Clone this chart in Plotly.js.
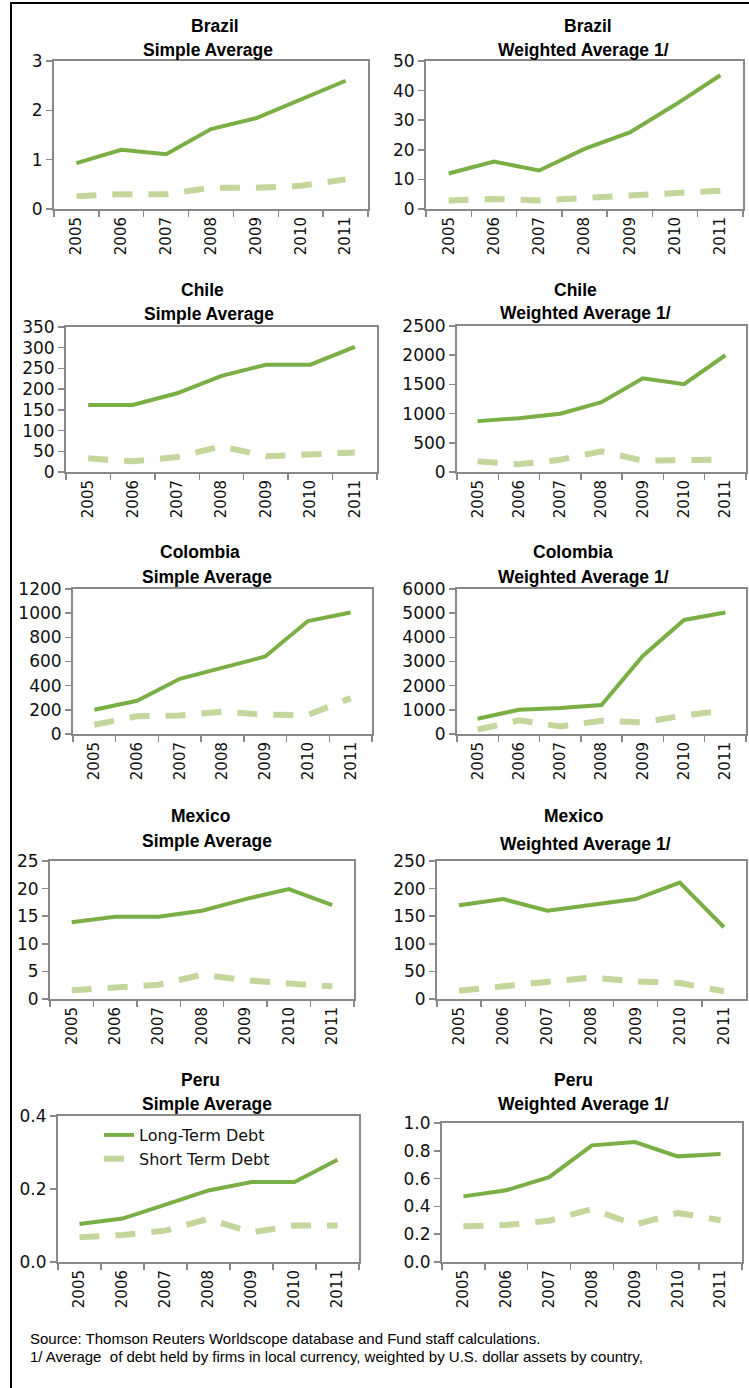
<!DOCTYPE html>
<html>
<head>
<meta charset="utf-8">
<script src="https://cdn.plot.ly/plotly-3.0.1.min.js"></script>
<style>
html,body{margin:0;padding:0;background:#fff;}
#chart{width:749px;height:1388px;}
</style>
</head>
<body>
<div id="chart"></div>
<script>
// ---- Data ----
const years = ['2005','2006','2007','2008','2009','2010','2011'];

const brazilSimpleLong   = [0.93, 1.20, 1.11, 1.62, 1.84, 2.22, 2.60];
const brazilSimpleShort  = [0.26, 0.30, 0.30, 0.43, 0.43, 0.47, 0.60];
const brazilWeightedLong = [12.0, 16.0, 13.0, 20.3, 25.9, 35.2, 45.2];
const brazilWeightedShort= [2.9, 3.4, 2.9, 3.8, 4.4, 5.2, 6.2];

const chileSimpleLong    = [162, 162, 190, 232, 259, 259, 302];
const chileSimpleShort   = [33, 26, 36, 62, 38, 43, 47];
const chileWeightedLong  = [871, 922, 997, 1196, 1606, 1503, 1999];
const chileWeightedShort = [182, 131, 211, 353, 194, 211, 211];

const colombiaSimpleLong    = [201, 275, 457, 553, 641, 935, 1005];
const colombiaSimpleShort   = [77, 146, 154, 184, 160, 157, 297];
const colombiaWeightedLong  = [633, 1005, 1073, 1197, 3230, 4720, 5030];
const colombiaWeightedShort = [179, 564, 316, 550, 482, 771, 963];

const mexicoSimpleLong    = [13.9, 14.9, 14.9, 16.0, 18.1, 19.9, 17.0];
const mexicoSimpleShort   = [1.57, 2.1, 2.6, 4.4, 3.4, 2.8, 2.3];
const mexicoWeightedLong  = [170, 181, 160, 170, 181, 211, 130];
const mexicoWeightedShort = [15, 23, 31, 39, 32, 29, 14];

const peruSimpleLong    = [0.104, 0.119, 0.157, 0.196, 0.219, 0.219, 0.280];
const peruSimpleShort   = [0.068, 0.074, 0.086, 0.118, 0.081, 0.100, 0.100];
const peruWeightedLong  = [0.472, 0.516, 0.611, 0.839, 0.863, 0.760, 0.777];
const peruWeightedShort = [0.257, 0.266, 0.297, 0.381, 0.269, 0.353, 0.300];

const seriesNames = ['Long-Term Debt', 'Short Term Debt'];
const subTitles = ['Simple Average', 'Weighted Average 1/'];
const footerLines = [
  'Source: Thomson Reuters Worldscope database and Fund staff calculations.',
  '1/ Average  of debt held by firms in local currency, weighted by U.S. dollar assets by country,'
];

// ---- Panel configuration ----
const panels = [
  {country:'Brazil',   sub:0, long:brazilSimpleLong,     short:brazilSimpleShort,     ymax:3,    dtick:1},
  {country:'Brazil',   sub:1, long:brazilWeightedLong,   short:brazilWeightedShort,   ymax:50,   dtick:10},
  {country:'Chile',    sub:0, long:chileSimpleLong,      short:chileSimpleShort,      ymax:350,  dtick:50},
  {country:'Chile',    sub:1, long:chileWeightedLong,    short:chileWeightedShort,    ymax:2500, dtick:500},
  {country:'Colombia', sub:0, long:colombiaSimpleLong,   short:colombiaSimpleShort,   ymax:1200, dtick:200},
  {country:'Colombia', sub:1, long:colombiaWeightedLong, short:colombiaWeightedShort, ymax:6000, dtick:1000},
  {country:'Mexico',   sub:0, long:mexicoSimpleLong,     short:mexicoSimpleShort,     ymax:25,   dtick:5},
  {country:'Mexico',   sub:1, long:mexicoWeightedLong,   short:mexicoWeightedShort,   ymax:250,  dtick:50},
  {country:'Peru',     sub:0, long:peruSimpleLong,       short:peruSimpleShort,       ymax:0.4,  dtick:0.2, fmt:'.1f', legend:true},
  {country:'Peru',     sub:1, long:peruWeightedLong,     short:peruWeightedShort,     ymax:1.0,  dtick:0.2, fmt:'.1f'}
];

// pixel boxes [x0, x1, ytop, ybottom] and title centers
const boxes = [
  [54, 368, 61, 209], [426, 743, 61, 209],
  [66, 377, 327, 472], [457, 746, 326, 472],
  [73, 372, 589, 734], [457, 746, 589, 734],
  [50, 354, 861, 999], [437, 746, 861, 999],
  [58, 359, 1116, 1262], [442, 742, 1123, 1262]
];
const titlePos = [
  [215, 26, 208, 50], [588, 26, 583, 50],
  [202, 290, 209, 314], [575, 290, 585, 313],
  [200, 552, 207, 577], [573, 552, 583, 577],
  [200, 816, 207, 841], [573, 816, 585, 844],
  [200, 1080, 207, 1104], [573, 1080, 583, 1104]
];

const W = 749, H = 1388;
const px = x => x / W;
const py = y => 1 - y / H;

const longColor = '#79AF45';
const shortColor = '#C3D69B';
const axisColor = '#898989';
const tickFamily = 'DejaVu Sans, sans-serif';
const titleFamily = 'Liberation Sans, Arial, sans-serif';

const data = [];
const layout = {
  width: W, height: H,
  margin: {l:0, r:0, t:0, b:0},
  paper_bgcolor: '#fff', plot_bgcolor: '#fff',
  showlegend: true,
  legend: {
    x: px(99), y: py(1118), xanchor: 'left', yanchor: 'top',
    bgcolor: 'rgba(0,0,0,0)', borderwidth: 0,
    font: {family: tickFamily, size: 16, color: '#111'},
    tracegroupgap: 0
  },
  annotations: [],
  shapes: [
    {type:'rect', xref:'paper', yref:'paper', x0: px(11), x1: px(751), y0: py(1392), y1: py(3),
     line:{color:'#000', width:2}, fillcolor:'rgba(0,0,0,0)', layer:'above'}
  ]
};

panels.forEach((p, i) => {
  const n = i + 1;
  const xa = 'x' + (n === 1 ? '' : n);
  const ya = 'y' + (n === 1 ? '' : n);
  const b = boxes[i];
  data.push({
    x: years, y: p.long, xaxis: xa, yaxis: ya, type: 'scatter', mode: 'lines',
    name: seriesNames[0], showlegend: !!p.legend, legendgroup: 'long',
    line: {color: longColor, width: 4}, hoverinfo: 'x+y'
  });
  data.push({
    x: years, y: p.short, xaxis: xa, yaxis: ya, type: 'scatter', mode: 'lines',
    name: seriesNames[1], showlegend: !!p.legend, legendgroup: 'short',
    line: {color: shortColor, width: 6, dash: '20px,16px'}, hoverinfo: 'x+y'
  });
  const xk = 'xaxis' + (n === 1 ? '' : n);
  const yk = 'yaxis' + (n === 1 ? '' : n);
  layout[xk] = {
    domain: [px(b[0]), px(b[1])], anchor: ya, type: 'category',
    range: [-0.5, 6.5], tickson: 'boundaries', ticks: 'outside', ticklen: 6,
    tickcolor: axisColor, tickwidth: 1.5, showline: true, linecolor: axisColor, linewidth: 2,
    mirror: true, showgrid: false, zeroline: false, tickangle: -90,
    tickfont: {family: tickFamily, size: 15, color: '#111'}, fixedrange: true
  };
  layout[yk] = {
    domain: [py(b[3]), py(b[2])], anchor: xa, range: [0, p.ymax], dtick: p.dtick, tick0: 0,
    ticks: 'outside', ticklen: 6, tickcolor: axisColor, tickwidth: 1.5,
    showline: true, linecolor: axisColor, linewidth: 2, mirror: true,
    showgrid: false, zeroline: false, tickformat: p.fmt || '',
    tickfont: {family: tickFamily, size: 17, color: '#111'}, fixedrange: true
  };
  const t = titlePos[i];
  layout.annotations.push({
    xref: 'paper', yref: 'paper', x: px(t[0]), y: py(t[1]), xanchor: 'center', yanchor: 'middle',
    text: '<b>' + p.country + '</b>', showarrow: false,
    font: {family: titleFamily, size: 17.5, color: '#000'}
  });
  layout.annotations.push({
    xref: 'paper', yref: 'paper', x: px(t[2]), y: py(t[3]), xanchor: 'center', yanchor: 'middle',
    text: '<b>' + subTitles[p.sub] + '</b>', showarrow: false,
    font: {family: titleFamily, size: 17.5, color: '#000'}
  });
});

footerLines.forEach((txt, k) => {
  layout.annotations.push({
    xref: 'paper', yref: 'paper', x: px(28), y: py(1338 + k * 18), xanchor: 'left', yanchor: 'middle',
    text: txt, showarrow: false,
    font: {family: titleFamily, size: 15, color: '#000'}
  });
});

Plotly.newPlot('chart', data, layout, {displayModeBar: false, staticPlot: true});
</script>
</body>
</html>
